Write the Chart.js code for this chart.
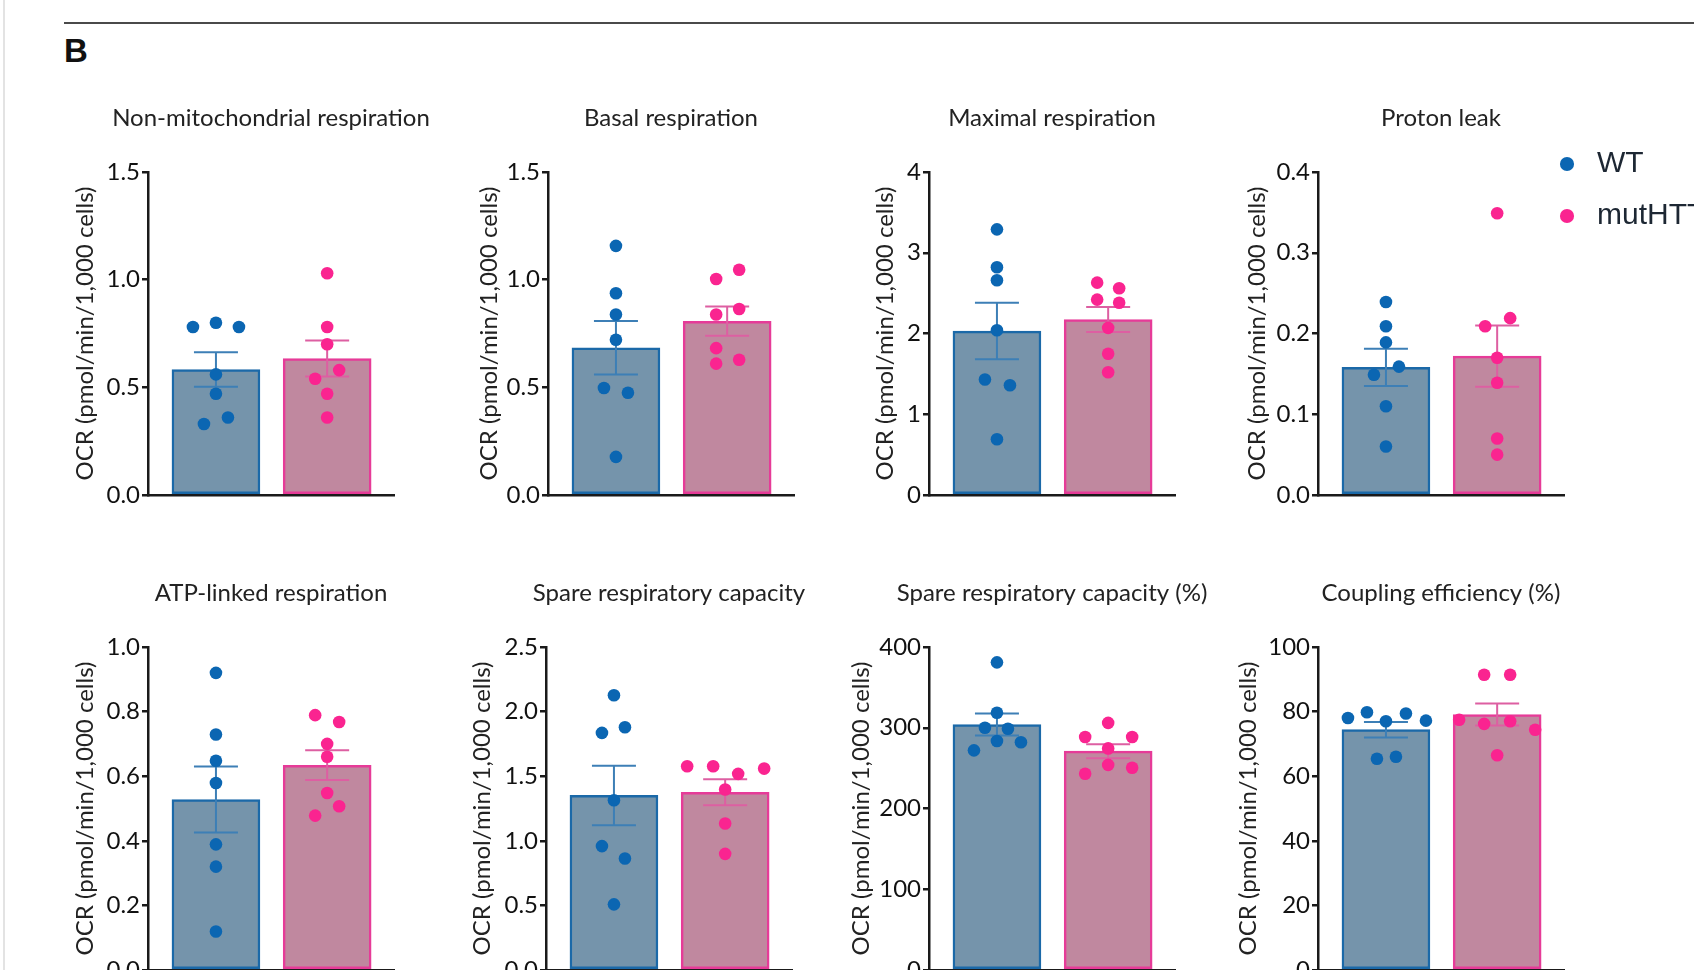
<!DOCTYPE html>
<html>
<head>
<meta charset="utf-8">
<script src="https://cdn.jsdelivr.net/npm/chart.js@4.4.0/dist/chart.umd.min.js"></script>
<style>
html,body{margin:0;padding:0;width:1694px;height:970px;overflow:hidden;background:#ffffff;}
#frameLine{position:absolute;left:3px;top:0;width:2px;height:970px;background:#e3e3e3;}
#rule{position:absolute;left:64px;top:22px;width:1630px;height:2px;background:#4a4a4a;}
#panelLetter{position:absolute;left:64px;top:34px;line-height:33px;font-weight:bold;font-size:33px;font-family:"Liberation Sans",Arial,sans-serif;color:#111;}
canvas{position:absolute;}
</style>
</head>
<body>
<div id="frameLine"></div>
<div id="rule"></div>
<div id="panelLetter">B</div>
<div id="holder"></div>
<script>
// ---------------- DATA ----------------
const groups = ['WT', 'mutHTT'];
const panelTitles = [
  'Non-mitochondrial respiration', 'Basal respiration', 'Maximal respiration', 'Proton leak',
  'ATP-linked respiration', 'Spare respiratory capacity', 'Spare respiratory capacity (%)', 'Coupling efficiency (%)'
];
const yAxisTitle = 'OCR (pmol/min/1,000 cells)';
const yTicks = [
  [0, 0.5, 1.0, 1.5],
  [0, 0.5, 1.0, 1.5],
  [0, 1, 2, 3, 4],
  [0, 0.1, 0.2, 0.3, 0.4],
  [0, 0.2, 0.4, 0.6, 0.8, 1.0],
  [0, 0.5, 1.0, 1.5, 2.0, 2.5],
  [0, 100, 200, 300, 400],
  [0, 20, 40, 60, 80, 100]
];
const tickDecimals = [1, 1, 0, 1, 1, 1, 0, 0];

const wtMean  = [0.583, 0.684, 2.03, 0.158, 0.528, 1.351, 304, 74.4];
const wtSem   = [0.080, 0.124, 0.35, 0.023, 0.102, 0.230, 13.5, 2.4];
const mutMean = [0.634, 0.807, 2.173, 0.172, 0.634, 1.376, 271, 79.1];
const mutSem  = [0.084, 0.068, 0.155, 0.038, 0.046, 0.100, 8.7, 3.4];

const wtPoints = [
  [0.78, 0.80, 0.78, 0.56, 0.47, 0.33, 0.36],
  [1.157, 0.937, 0.838, 0.721, 0.497, 0.475, 0.177],
  [3.29, 2.82, 2.66, 2.04, 1.43, 1.36, 0.69],
  [0.239, 0.209, 0.189, 0.159, 0.149, 0.110, 0.060],
  [0.92, 0.729, 0.648, 0.579, 0.389, 0.320, 0.119],
  [2.126, 1.835, 1.879, 1.314, 0.959, 0.863, 0.508],
  [381, 318.5, 300, 298.8, 283.5, 282, 272],
  [78.0, 79.8, 77.0, 79.4, 77.2, 65.4, 66.0]
];
const mutPoints = [
  [1.03, 0.78, 0.70, 0.54, 0.58, 0.47, 0.36],
  [1.003, 1.046, 0.838, 0.864, 0.682, 0.610, 0.628],
  [2.63, 2.56, 2.42, 2.38, 2.07, 1.75, 1.52],
  [0.349, 0.219, 0.209, 0.170, 0.139, 0.070, 0.050],
  [0.789, 0.768, 0.700, 0.660, 0.548, 0.507, 0.478],
  [1.577, 1.577, 1.518, 1.559, 1.397, 1.134, 0.899],
  [306, 288.5, 288.5, 274.4, 254, 243, 250.5],
  [91.4, 91.4, 77.5, 76.2, 77.0, 74.4, 66.5]
];

// ---------------- LAYOUT / STYLE ----------------
// horizontal scatter offsets of the dots (pixels)
const wtJitterPx = [
  [-23, 0, 23, 0, 0, -12, 12],
  [0, 0, 0, 0, -12, 12, 0],
  [0, 0, 0, 0, -12, 13, 0],
  [0, 0, 0, 13, -12, 0, 0],
  [0, 0, 0, 0, 0, 0, 0],
  [0, -12, 11, 0, -12, 11, 0],
  [0, 0, -12, 11, 0, 24, -23],
  [-38, -19, 0, 20, 40, -9, 10]
];
const mutJitterPx = [
  [0, 0, 0, -12, 12, 0, 0],
  [-11, 12, -11, 12, -11, -11, 12],
  [-11, 11, -11, 11, 0, 0, 0],
  [0, 13, -12, 0, 0, 0, 0],
  [-12, 12, 0, 0, 0, 12, -12],
  [-38, -12, 13, 39, 0, 0, 0],
  [0, -23, 24, 0, 0, -23, 24],
  [-13, 13, -38, -13, 13, 38, 0]
];
const panelAxisX = [148, 548, 929, 1318, 148, 546, 929, 1318];
const yTitleOffset = [63, 59, 44, 61, 63, 64, 68, 70];
const rowAreaTop = [172, 647];
const PLOT_W = 246, PLOT_H = 323;
const X_MIN = -0.611, X_MAX = 1.601;
const PX_PER_UNIT = PLOT_W / (X_MAX - X_MIN);
const CAP_HALF = 22 / PX_PER_UNIT;
const PAD_B = 24;
const TITLE_PAD_TOP = 10, TITLE_LH = 26, TITLE_PAD_BOTTOM = 41;

const AXIS = '#1a1a1a';
const DOT = ['#0b66b2', '#fa2490'];
const FILL = ['#7594ab', '#c0889f'];
const EDGE = ['#1b69a8', '#e63b98'];
const ERR = ['#3d7fb6', '#dd5fa2'];
const FONT = 'Lato';

function errorBarData(center, mean, sem) {
  const hi = mean + sem, lo = mean - sem;
  return [
    {x: center - CAP_HALF, y: hi}, {x: center + CAP_HALF, y: hi}, {x: center, y: null},
    {x: center, y: hi}, {x: center, y: lo}, {x: center, y: null},
    {x: center - CAP_HALF, y: lo}, {x: center + CAP_HALF, y: lo}
  ];
}

function makePanel(i) {
  const row = i < 4 ? 0 : 1;
  const areaTop = rowAreaTop[row];
  const yW = Math.round(yTitleOffset[i] + 14.4);
  const canvas = document.createElement('canvas');
  const cw = yW + PLOT_W + yW;          // symmetric so the title centres over the plot
  const topBlock = TITLE_PAD_TOP + TITLE_LH + TITLE_PAD_BOTTOM;
  const ch = topBlock + PLOT_H + PAD_B;
  canvas.width = cw; canvas.height = ch;
  canvas.style.width = cw + 'px'; canvas.style.height = ch + 'px';
  canvas.style.left = (panelAxisX[i] - yW) + 'px';
  canvas.style.top = (areaTop - topBlock) + 'px';
  document.getElementById('holder').appendChild(canvas);

  const means = [wtMean[i], mutMean[i]];
  const sems = [wtSem[i], mutSem[i]];
  const pts = [wtPoints[i], mutPoints[i]];
  const jit = [wtJitterPx[i], mutJitterPx[i]];
  const ticks = yTicks[i];
  const dec = tickDecimals[i];

  const datasets = [];
  datasets.push({
    type: 'bar',
    data: groups.map((g, k) => ({x: k, y: means[k]})),
    backgroundColor: FILL, borderColor: EDGE, borderWidth: 2.5,
    borderSkipped: false, barThickness: 88, order: 3
  });
  groups.forEach((g, k) => {
    datasets.push({
      type: 'line', data: errorBarData(k, means[k], sems[k]),
      borderColor: ERR[k], borderWidth: 2, pointRadius: 0, fill: false,
      spanGaps: false, tension: 0, order: 2, borderCapStyle: 'butt'
    });
  });
  groups.forEach((g, k) => {
    datasets.push({
      type: 'scatter', label: g,
      data: pts[k].map((v, j) => ({x: k + jit[k][j] / PX_PER_UNIT, y: v})),
      backgroundColor: DOT[k], borderWidth: 0, pointRadius: 6.3, order: 1
    });
  });

  return new Chart(canvas, {
    type: 'bar',
    data: {datasets},
    options: {
      responsive: false, animation: false, devicePixelRatio: 1, events: [],
      layout: {padding: {left: 0, right: 0, top: 0, bottom: PAD_B}},
      plugins: {
        legend: {display: false},
        tooltip: {enabled: false},
        title: {
          display: true, text: panelTitles[i], fullSize: true, color: '#222',
          font: {family: FONT, size: 24, weight: 'normal', lineHeight: TITLE_LH + 'px'},
          padding: {top: TITLE_PAD_TOP, bottom: TITLE_PAD_BOTTOM}
        }
      },
      scales: {
        x: {
          type: 'linear', min: X_MIN, max: X_MAX, offset: false,
          ticks: {display: false},
          grid: {display: false, drawTicks: false},
          border: {display: true, color: AXIS, width: 2.5},
          afterFit: s => { s.height = 0; }
        },
        y: {
          type: 'linear', position: 'left', min: ticks[0], max: ticks[ticks.length - 1],
          afterBuildTicks: s => { s.ticks = ticks.map(v => ({value: v})); },
          ticks: {
            color: '#111', padding: 2, font: {family: FONT, size: 24},
            callback: v => Number(v).toFixed(dec)
          },
          grid: {display: true, drawOnChartArea: false, drawTicks: true, tickLength: 6, color: AXIS, lineWidth: 2.5},
          border: {display: true, color: AXIS, width: 2.5},
          title: {display: true, text: yAxisTitle, color: '#222', font: {family: FONT, size: 24}, padding: 0},
          afterFit: s => { s.width = yW; }
        },
        ySpace: {
          type: 'linear', position: 'right', min: 0, max: 1, display: true,
          ticks: {display: false},
          grid: {display: false, drawTicks: false},
          border: {display: false},
          afterFit: s => { s.width = yW; }
        }
      }
    }
  });
}

function makeLegend() {
  const canvas = document.createElement('canvas');
  canvas.width = 400; canvas.height = 200;
  canvas.style.width = '400px'; canvas.style.height = '200px';
  canvas.style.left = '1530px'; canvas.style.top = '127px';
  document.getElementById('holder').appendChild(canvas);
  return new Chart(canvas, {
    type: 'scatter',
    data: {datasets: groups.map((g, k) => ({
      label: g, data: [], backgroundColor: DOT[k], borderColor: DOT[k], borderWidth: 0, pointStyle: 'circle'
    }))},
    options: {
      responsive: false, animation: false, devicePixelRatio: 1, events: [],
      layout: {padding: 0},
      plugins: {
        tooltip: {enabled: false},
        legend: {
          display: true, position: 'left', align: 'start',
          labels: {
            usePointStyle: true, pointStyle: 'circle', boxWidth: 30, boxHeight: 10, padding: 22,
            color: '#1d2733', font: {family: 'Liberation Sans', size: 30}
          }
        }
      },
      scales: {x: {display: false}, y: {display: false}}
    }
  });
}

Promise.all([
  document.fonts.load('24px Lato'),
  document.fonts.load('30px "Liberation Sans"')
]).catch(() => {}).then(() => {
  for (let i = 0; i < 8; i++) makePanel(i);
  makeLegend();
});
</script>
</body>
</html>
